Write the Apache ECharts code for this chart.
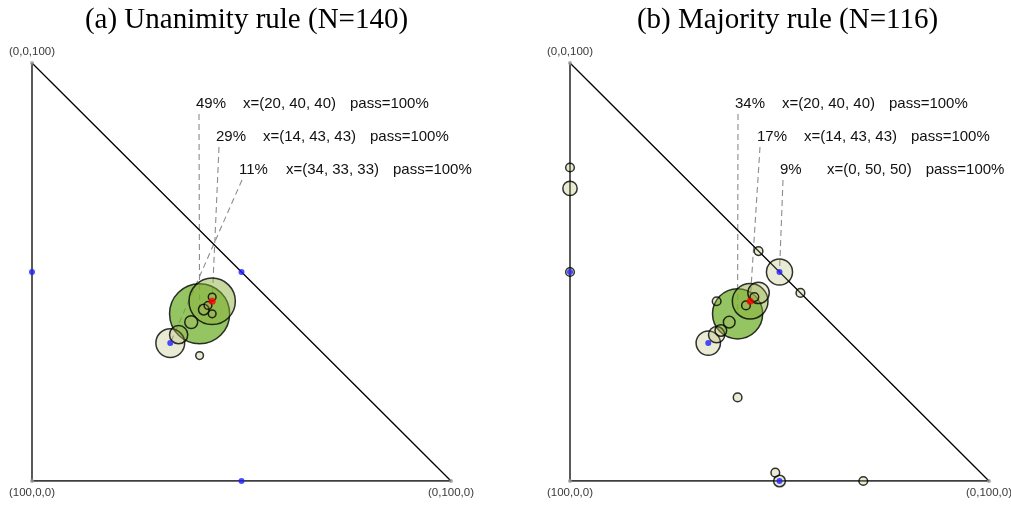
<!DOCTYPE html>
<html>
<head>
<meta charset="utf-8">
<script src="https://cdn.jsdelivr.net/npm/echarts@6/dist/echarts.min.js"></script>
<style>
  html, body { margin: 0; padding: 0; background: #fff; }
  #chart { width: 1011px; height: 505px; }
</style>
</head>
<body>
<div id="chart"></div>
<script>
// Mixtures are simplex points (a, b, c) with a + b + c = 100.
// b runs along the bottom edge, c up the left edge.
const titles = ['(a) Unanimity rule (N=140)', '(b) Majority rule (N=116)'];
const cornerLabels = ['(0,0,100)', '(100,0,0)', '(0,100,0)'];
const cornerMix = [[0, 0, 100], [100, 0, 0], [0, 100, 0]];

// Panel (a): share (%) of outcomes at each mixture; first three are the annotated ones
const leftMix = [
  [20, 40, 40], [14, 43, 43], [34, 33, 33], [30, 35, 35], [24, 38, 38],
  [18, 41, 41], [13, 43, 44], [16, 42, 42], [17, 43, 40], [30, 40, 30]
];
const leftShare = [49, 29, 11, 4.3, 2.1, 1.4, 0.7, 0.7, 0.7, 0.7];
const leftPass = [100, 100, 100];

// Panel (b)
const rightMix = [
  [20, 40, 40], [14, 43, 43], [0, 50, 50], [34, 33, 33], [10, 45, 45],
  [30, 35, 35], [30, 0, 70], [24, 38, 38], [28, 36, 36], [50, 50, 0],
  [0, 45, 55], [0, 55, 45], [22, 35, 43], [12, 44, 44], [16, 42, 42],
  [25, 0, 75], [50, 0, 50], [40, 40, 20], [49, 49, 2], [30, 70, 0]
];
const rightShare = [34, 17, 9, 7.8, 6.0, 3.4, 2.6, 1.7, 1.7, 1.7,
  0.9, 0.9, 0.9, 0.9, 0.9, 0.9, 0.9, 0.9, 0.9, 0.9];
const rightPass = [100, 100, 100];

// Reference mixtures (blue) and the highlighted mixture (red)
const refMix = [[50, 0, 50], [0, 50, 50], [50, 50, 0], [34, 33, 33]];
const markMix = [[14, 43, 43]];

const panels = [
  { mix: leftMix, share: leftShare, pass: leftPass, left: 32, titleShift: 0, labelX: [196, 216, 239] },
  { mix: rightMix, share: rightShare, pass: rightPass, left: 570, titleShift: 3, labelX: [735, 757, 780] }
];
const gridTop = 63, gridSize = [419, 418];
const labelY = [102, 135, 168];
const SANS = '"Liberation Sans", Arial, sans-serif';

const toXY = m => [m[1], m[2]];
const bubbleColors = ['rgba(108,174,38,0.9)', 'rgba(138,176,58,0.6)', 'rgba(172,176,92,0.32)'];

const grids = [], xAxes = [], yAxes = [], series = [], titleOpts = [];
panels.forEach((p, i) => {
  grids.push({ left: p.left, top: gridTop, width: gridSize[0], height: gridSize[1] });
  xAxes.push({ gridIndex: i, type: 'value', min: 0, max: 100, show: false });
  yAxes.push({ gridIndex: i, type: 'value', min: 0, max: 100, show: false });
  titleOpts.push({
    text: titles[i], left: p.left + gridSize[0] / 2 + p.titleShift, top: 1, textAlign: 'center',
    textStyle: { fontFamily: '"Liberation Serif", "DejaVu Serif", serif', fontWeight: 'normal', fontSize: 29, color: '#000' }
  });

  // simplex outline
  series.push({
    type: 'line', xAxisIndex: i, yAxisIndex: i, silent: true, symbol: 'none', z: 1,
    lineStyle: { color: '#000', width: 1.3 },
    data: [cornerMix[0], cornerMix[1], cornerMix[2], cornerMix[0]].map(toXY)
  });
  // corners with labels
  series.push({
    type: 'scatter', xAxisIndex: i, yAxisIndex: i, silent: true, symbolSize: 4, z: 1,
    itemStyle: { color: '#999' },
    data: cornerMix.map((m, k) => ({
      value: toXY(m),
      label: {
        show: true, formatter: cornerLabels[k], position: k === 0 ? 'top' : 'bottom',
        distance: k === 0 ? 3 : 4, fontFamily: SANS, fontSize: 11.5, color: '#000'
      }
    }))
  });
  // outcome bubbles, area proportional to share, largest drawn first
  const order = p.share.map((s, k) => k).sort((u, v) => p.share[v] - p.share[u]);
  series.push({
    type: 'scatter', xAxisIndex: i, yAxisIndex: i, silent: true, z: 3,
    symbolSize: v => 8.5 * Math.sqrt(v[2]) + 0.6,
    itemStyle: {
      color: prm => bubbleColors[Math.min(prm.value[3], 2)],
      borderColor: '#000', borderWidth: 1.5
    },
    data: order.map((k, rank) => ({ value: [...toXY(p.mix[k]), p.share[k], rank] }))
  });
  series.push({
    type: 'scatter', xAxisIndex: i, yAxisIndex: i, silent: true, z: 4, symbolSize: 6,
    itemStyle: { color: '#1f1fff' }, data: refMix.map(toXY)
  });
  series.push({
    type: 'scatter', xAxisIndex: i, yAxisIndex: i, silent: true, z: 4, symbolSize: 7,
    itemStyle: { color: '#ff0000' }, data: markMix.map(toXY)
  });
});

const chart = echarts.init(document.getElementById('chart'), null, { renderer: 'canvas' });
chart.setOption({
  animation: false, backgroundColor: '#fff',
  title: titleOpts, grid: grids, xAxis: xAxes, yAxis: yAxes, series: series
});

// annotations for the three most frequent mixtures, with dashed leaders
const ctx = document.createElement('canvas').getContext('2d');
const font = '15px ' + SANS;
ctx.font = font;
const graphics = [];
panels.forEach((p, i) => {
  for (let r = 0; r < 3; r++) {
    const m = p.mix[r];
    const x0 = p.labelX[r], y0 = labelY[r];
    const mixText = 'x=(' + m.join(', ') + ')';
    const shareText = Math.round(p.share[r]) + '%';
    const passText = 'pass=' + p.pass[r] + '%';
    const xMix = x0 + 47;
    const xPass = xMix + ctx.measureText(mixText).width + 14;
    [[shareText, x0], [mixText, xMix], [passText, xPass]].forEach(([t, x]) => {
      graphics.push({
        type: 'text', z: 5, silent: true,
        style: { text: t, x: x, y: y0 + 2, font: font, fill: '#111', verticalAlign: 'middle', align: 'left' }
      });
    });
    const end = chart.convertToPixel({ gridIndex: i }, toXY(m));
    graphics.push({
      type: 'line', z: 0, silent: true,
      shape: { x1: x0 + 3, y1: y0 + 12, x2: end[0], y2: end[1] },
      style: { stroke: '#8c8c8c', lineWidth: 1.1, lineDash: [6, 4] }
    });
  }
});
chart.setOption({ graphic: graphics });
</script>
</body>
</html>
